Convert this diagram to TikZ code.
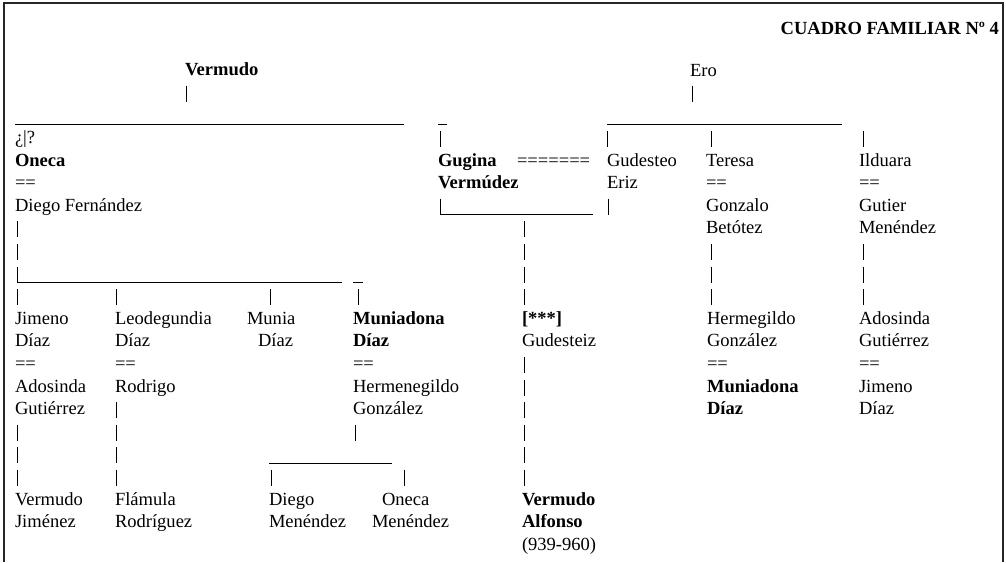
\documentclass[tikz,border=0pt]{standalone}
\usepackage{fontspec}
\setmainfont{Liberation Serif}
% several lines of one name, baseline on the first line
\newcommand{\stack}[1]{\begin{tabular}[t]{@{}l@{}}#1\end{tabular}}
% one "|" stroke in text row #2 at x = #1 (rows are 22.6 units apart, row 0 at 166)
\newcommand{\pipe}[2]{\draw[bar] (#1,{166+22.6*(#2)-12.5}) -- (#1,{166+22.6*(#2)+3.5});}
% an underscore rule from #1 to #2 in text row #3
\newcommand{\rul}[3]{\draw[rule] (#1,{166+22.6*(#3)+3.3}) -- (#2,{166+22.6*(#3)+3.3});}
\begin{document}
\begin{tikzpicture}[x=0.75pt,y=-0.75pt,
  every node/.style={inner sep=0pt, outer sep=0pt, anchor=base west,
    font=\fontsize{13.9}{16.95}\selectfont},
  nm/.style={},
  bnm/.style={font=\fontsize{13.9}{16.95}\selectfont\bfseries},
  bar/.style={line width=0.75pt},
  rule/.style={line width=0.75pt},
  frame/.style={line width=1.1pt, draw=black!85}]
\useasboundingbox (0,0) rectangle (1006,562);
\draw[frame] (4,562) -- (4,3) -- (1003,3) -- (1003,562);

% title
\node[bnm, anchor=base east] (title) at (999,34) {CUADRO FAMILIAR Nº 4};

% first generation
\node[bnm] (vermudo) at (185,75.6) {Vermudo};
\node[nm] (ero) at (690,76.5) {Ero};
\pipe{186}{-3} \pipe{692}{-3}
\rul{15}{404}{-2} \rul{438}{447}{-2} \rul{607}{842}{-2}

% children of Vermudo and Ero
\node[nm] (q) at (15,143.4) {¿|?};
\pipe{440}{-1} \pipe{607}{-1} \pipe{711}{-1} \pipe{863}{-1}
\node[bnm] (oneca) at (15,166) {Oneca};
\node[nm] (m1) at (15,188.6) {==};
\node[nm] (diegoF) at (15,211.2) {Diego Fernández};
\node[bnm] (gugina) at (438,166) {\stack{Gugina\\Vermúdez}};
\node[nm] (m2) at (517,166) {=======};
\node[nm] (gudesteo) at (607,166) {\stack{Gudesteo\\Eriz}};
\node[nm] (teresa) at (706,166) {Teresa};
\node[nm] (m3) at (706,188.6) {==};
\node[nm] (gonzalo) at (706,211.2) {\stack{Gonzalo\\Betótez}};
\node[nm] (ilduara) at (859,166) {Ilduara};
\node[nm] (m4) at (859,188.6) {==};
\node[nm] (gutier) at (859,211.2) {\stack{Gutier\\Menéndez}};

% descent lines
\pipe{440}{2} \rul{440}{593}{2} \pipe{608}{2}
\foreach \r in {3,...,6} {\pipe{524}{\r}}
\foreach \r in {3,4,5} {\pipe{17}{\r}}
\foreach \r in {4,5,6} {\pipe{711}{\r} \pipe{863}{\r}}
\rul{17}{342}{5} \rul{353}{363}{5}
\pipe{17}{6} \pipe{116}{6} \pipe{270}{6} \pipe{358}{6}

% children of Oneca and Diego Fernández
\node[nm] (jimeno) at (15,324.2) {\stack{Jimeno\\Díaz}};
\node[nm] (m5) at (15,369.4) {==};
\node[nm] (adosinda) at (15,392) {\stack{Adosinda\\Gutiérrez}};
\node[nm] (leodegundia) at (115,324.2) {\stack{Leodegundia\\Díaz}};
\node[nm] (m6) at (115,369.4) {==};
\node[nm] (rodrigo) at (115,392) {Rodrigo};
\node[nm] (munia) at (247,324.2) {\stack{Munia\\\hspace*{8.25pt}Díaz}};
\node[bnm] (muniadona) at (353,324.2) {\stack{Muniadona\\Díaz}};
\node[nm] (m7) at (353,369.4) {==};
\node[nm] (hermenegildo) at (353,392) {\stack{Hermenegildo\\González}};

% Gudesteiz line
\node[nm] (gudesteiz) at (522,324.2) {\stack{\textbf{[***]}\\Gudesteiz}};
\foreach \r in {9,...,14} {\pipe{524}{\r}}

% grandchildren of Teresa and Ilduara
\node[nm] (hermegildo) at (707,324.2) {\stack{Hermegildo\\González}};
\node[nm] (m8) at (707,369.4) {==};
\node[bnm] (muniadona2) at (707,392) {\stack{Muniadona\\Díaz}};
\node[nm] (adosinda2) at (859,324.2) {\stack{Adosinda\\Gutiérrez}};
\node[nm] (m9) at (859,369.4) {==};
\node[nm] (jimeno2) at (859,392) {\stack{Jimeno\\Díaz}};

% last generation
\foreach \r in {12,13,14} {\pipe{17}{\r}}
\foreach \r in {11,...,14} {\pipe{116}{\r}}
\pipe{355}{12}
\rul{269}{392}{13}
\pipe{271}{14} \pipe{404}{14}
\node[nm] (vermudoJ) at (15,505) {\stack{Vermudo\\Jiménez}};
\node[nm] (flamula) at (115,505) {\stack{Flámula\\Rodríguez}};
\node[nm] (diegoM) at (269,505) {\stack{Diego\\Menéndez}};
\node[nm] (onecaM) at (372,505) {\stack{\hspace*{7.5pt}Oneca\\Menéndez}};
\node[nm] (vermudoA) at (522,505) {\stack{\textbf{Vermudo}\\\textbf{Alfonso}\\(939-960)}};
\end{tikzpicture}
\end{document}
